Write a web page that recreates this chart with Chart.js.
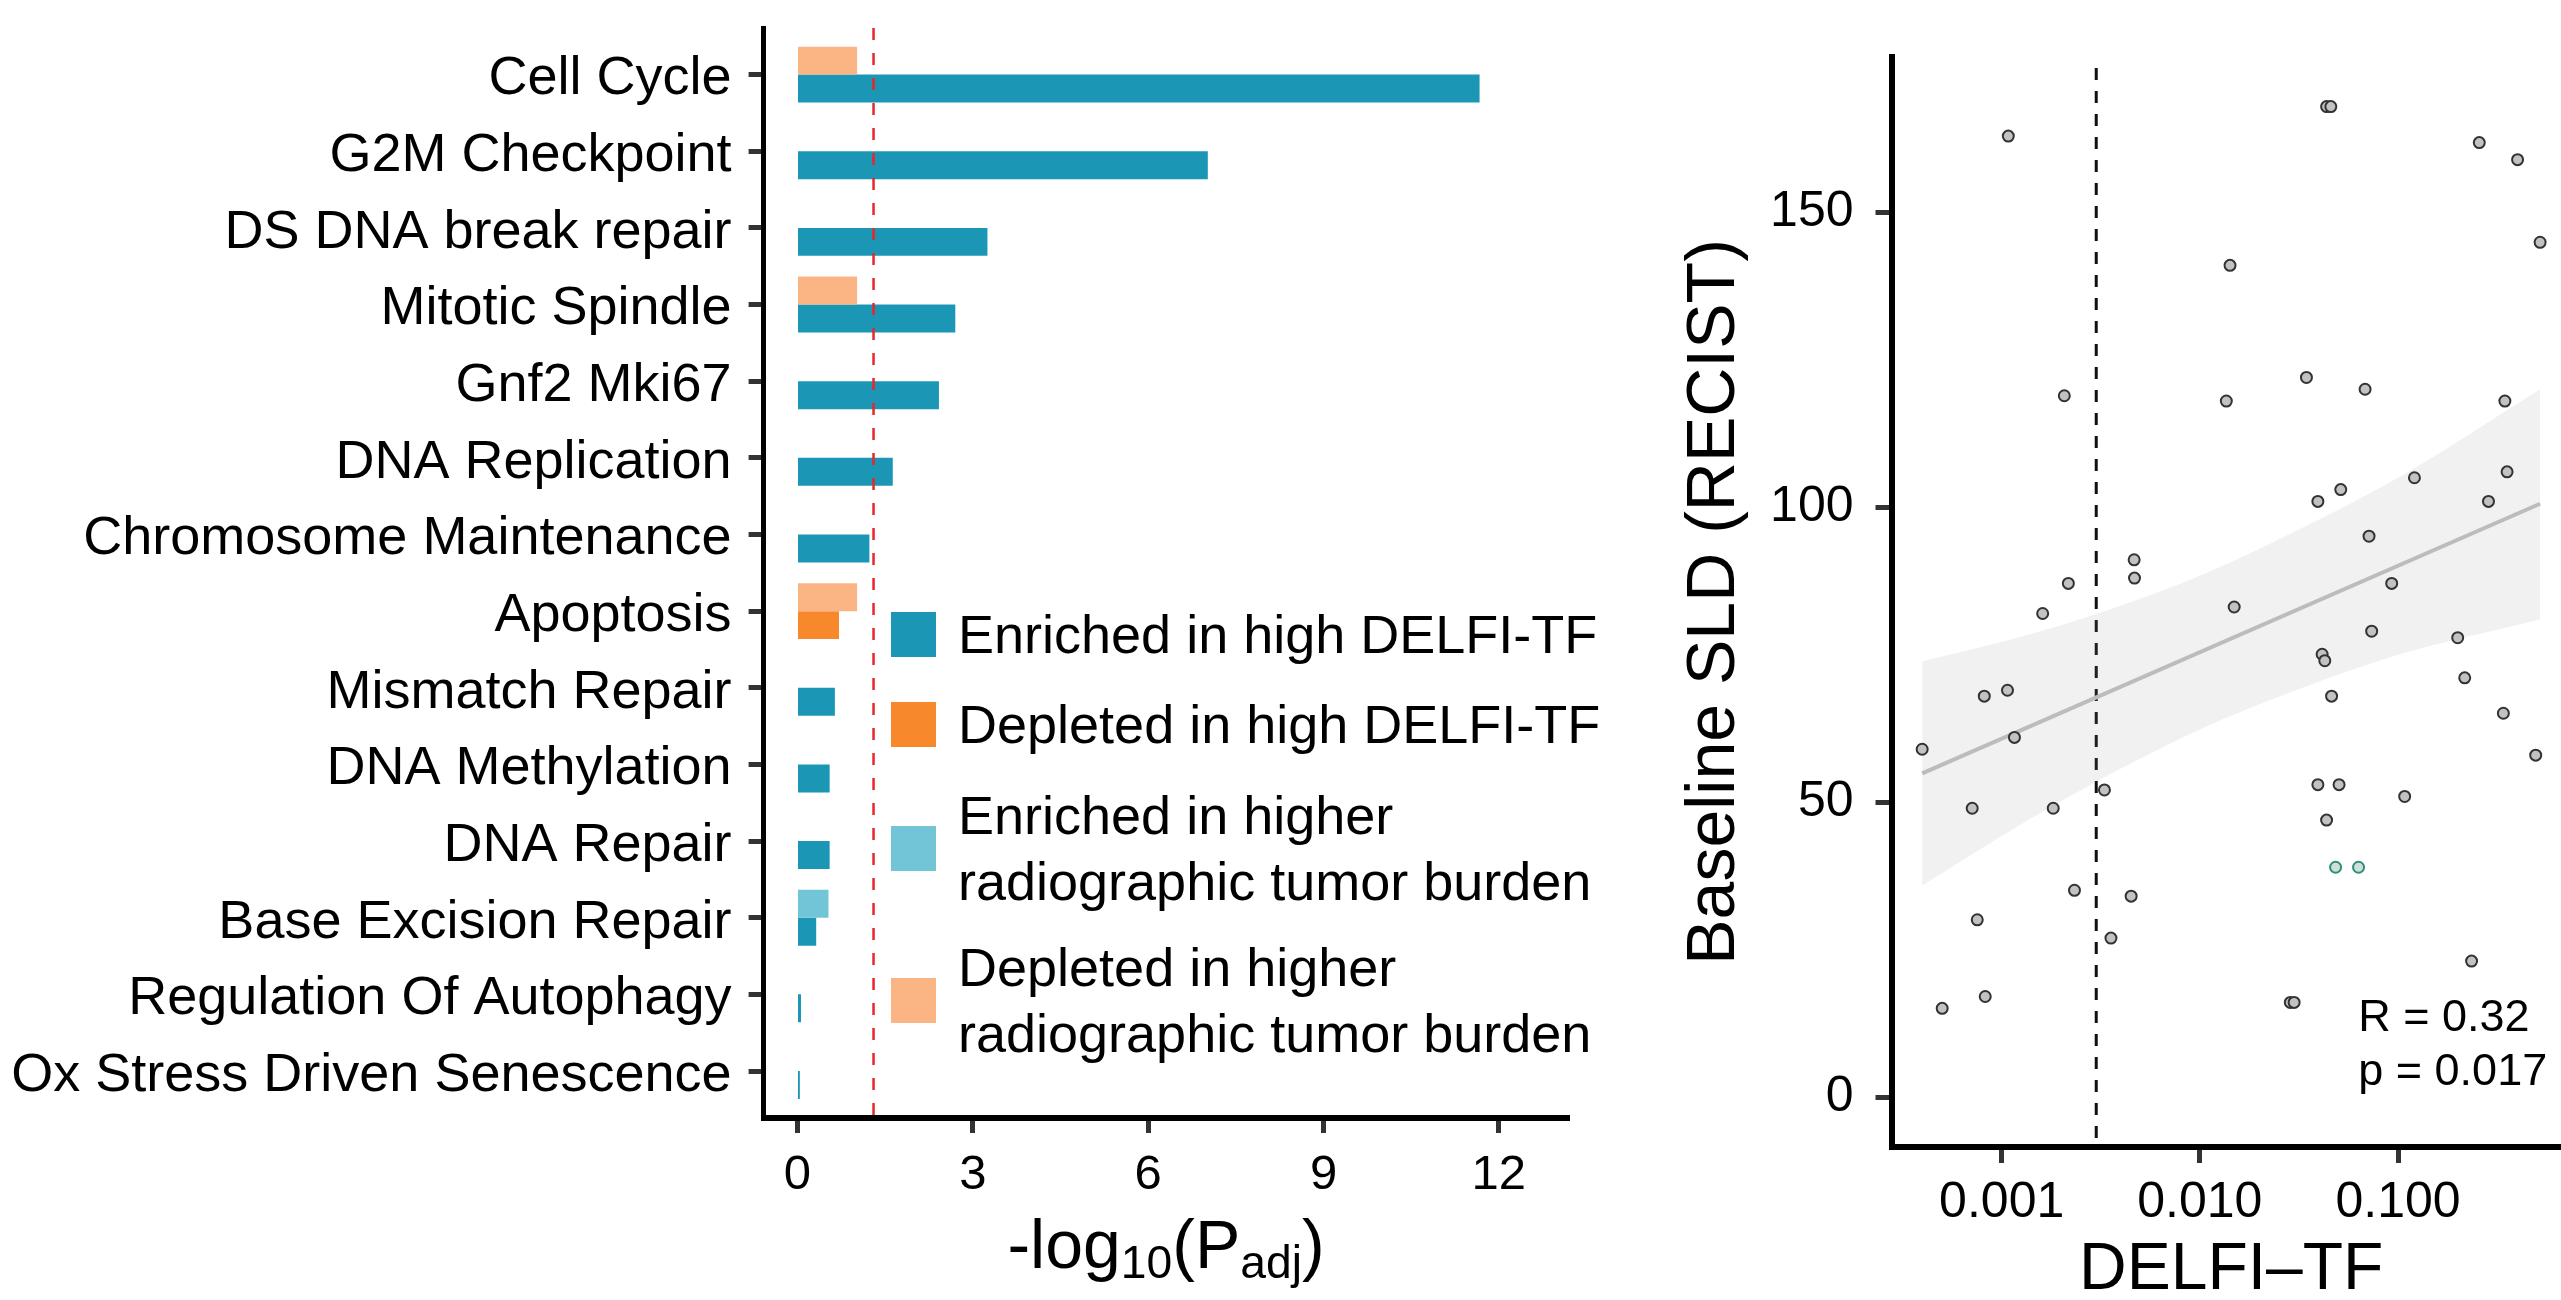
<!DOCTYPE html>
<html>
<head>
<meta charset="utf-8">
<title>Pathway enrichment and DELFI-TF vs baseline SLD</title>
<script src="https://cdn.jsdelivr.net/npm/chart.js@4.4.1/dist/chart.umd.min.js"></script>
<style>
  html, body { margin: 0; padding: 0; background: #fff; }
  body { width: 2561px; height: 1300px; overflow: hidden; position: relative;
         font-family: 'Liberation Sans', Arial, Helvetica, sans-serif; color: #000; }
  #left-chart { position: absolute; left: 0; top: 0; }
  #right-chart { position: absolute; left: 1620px; top: 0; }
  .legend-item { position: absolute; left: 891px; display: flex; align-items: center;
                 font-size: 54px; line-height: 66px; white-space: pre-line; }
  .legend-swatch { width: 45px; height: 45px; margin-right: 22px; flex: none; }
  #x-title-left { position: absolute; top: 1210px; left: 1166px; transform: translateX(-50%);
                  font-size: 68px; line-height: 68px; white-space: nowrap; }
  #x-title-left .sub { font-size: 0.68em; position: relative; top: 0.22em; }
</style>
</head>
<body>
<canvas id="left-chart" width="1600" height="1300"></canvas>
<canvas id="right-chart" width="1000" height="1300"></canvas>
<div id="legend"></div>
<div id="x-title-left">-log<span class="sub">10</span>(P<span class="sub">adj</span>)</div>
<script>
// ---- left panel: pathway enrichment, -log10(Padj) ----
const pathways = ['Cell Cycle', 'G2M Checkpoint', 'DS DNA break repair', 'Mitotic Spindle',
  'Gnf2 Mki67', 'DNA Replication', 'Chromosome Maintenance', 'Apoptosis', 'Mismatch Repair',
  'DNA Methylation', 'DNA Repair', 'Base Excision Repair', 'Regulation Of Autophagy',
  'Ox Stress Driven Senescence'];
const delfiEnriched = [11.67, 7.02, 3.25, 2.70, 2.42, 1.63, 1.23, null, 0.64, 0.55, 0.55, 0.32, 0.06, 0.04];
const delfiDepleted = [null, null, null, null, null, null, null, 0.71, null, null, null, null, null, null];
const radioEnriched = [null, null, null, null, null, null, null, null, null, null, null, 0.53, null, null];
const radioDepleted = [1.02, null, null, 1.02, null, null, null, 1.02, null, null, null, null, null, null];
const padjCutoff = 1.301;
const padjTicks = [0, 3, 6, 9, 12];

// ---- right panel: DELFI-TF vs baseline SLD ----
const delfiTf = [0.00108, 0.0436, 0.0458, 0.257, 0.401, 0.521, 0.0142, 0.00207, 0.0136, 0.0345,
  0.0682, 0.346, 0.121, 0.355, 0.0514, 0.0394, 0.286, 0.0714, 0.00466, 0.00468, 0.00217, 0.00161,
  0.0149, 0.0929, 0.0736, 0.200, 0.0414, 0.0427, 0.217, 0.0462, 0.340, 0.000817, 0.00107, 0.00116,
  0.000397, 0.495, 0.00330, 0.000710, 0.00182, 0.0394, 0.0504, 0.108, 0.0436, 0.00233, 0.00450,
  0.000753, 0.00356, 0.235, 0.000826, 0.000501, 0.0286, 0.0299];
const baselineSld = [162.9, 167.9, 167.9, 161.8, 158.9, 144.9, 141.0, 118.9, 118.0, 122.0,
  120.0, 118.0, 105.0, 106.0, 103.0, 101.0, 101.0, 95.1, 91.1, 88.0, 87.1, 82.0,
  83.1, 87.1, 79.0, 77.9, 75.1, 74.0, 71.1, 68.0, 65.1, 68.0, 69.0, 61.0,
  59.0, 58.0, 52.1, 49.0, 49.0, 53.0, 53.0, 51.0, 47.0, 35.1, 34.1,
  30.1, 27.0, 23.1, 17.1, 15.1, 16.1, 16.1];
const flaggedTf = [0.0484, 0.0632];
const flaggedSld = [39.0, 39.0];
const fitTf = [0.000397, 0.521];
const fitSld = [54.9, 100.6];
const bandTf = [0.000397, 0.0012, 0.0035, 0.0105, 0.031, 0.1, 0.521];
const bandLow = [35.9, 45.9, 54.7, 62.7, 69.1, 75.0, 81.0];
const bandHigh = [73.9, 77.9, 82.7, 88.7, 96.1, 105.0, 120.0];
const tfCutoff = 0.003;
const tfTicks = [0.001, 0.01, 0.1];
const sldTicks = [0, 50, 100, 150];
const corrLines = ['R = 0.32', 'p = 0.017'];

const TEAL = '#1b97b5';
const ORANGE = '#f7882b';
const LIGHT_BLUE = '#72c4d7';
const LIGHT_ORANGE = '#fbb584';

Chart.defaults.font.family = "'Liberation Sans', Arial, Helvetica, sans-serif";
Chart.defaults.color = '#000';

const toBarPoints = (values) => values
  .map((v, i) => ({ y: i, x: v }))
  .filter((p) => p.x !== null);

// vertical reference line drawn at a data value of the x scale
const refLinePlugin = {
  id: 'refLine',
  beforeDatasetsDraw(chart, args, opts) { if (opts.behind) drawRefLine(chart, opts); },
  afterDatasetsDraw(chart, args, opts) { if (!opts.behind) drawRefLine(chart, opts); }
};
function drawRefLine(chart, opts) {
  const { ctx, chartArea } = chart;
  const x = chart.scales.x.getPixelForValue(opts.value);
  ctx.save();
  ctx.strokeStyle = opts.color;
  ctx.lineWidth = opts.width;
  ctx.setLineDash(opts.dash);
  ctx.lineDashOffset = opts.dashOffset || 0;
  ctx.beginPath();
  ctx.moveTo(x, chartArea.top);
  ctx.lineTo(x, chartArea.bottom);
  ctx.stroke();
  ctx.restore();
}

// correlation text in data coordinates
const corrLabelPlugin = {
  id: 'corrLabel',
  afterDatasetsDraw(chart, args, opts) {
    const { ctx, scales } = chart;
    const x = scales.x.getPixelForValue(opts.x);
    ctx.save();
    ctx.font = `${opts.size}px ${Chart.defaults.font.family}`;
    ctx.fillStyle = '#000';
    ctx.textAlign = 'left';
    ctx.textBaseline = 'alphabetic';
    opts.lines.forEach((line, i) => {
      ctx.fillText(line, x, scales.y.getPixelForValue(opts.y[i]));
    });
    ctx.restore();
  }
};

const axisGrid = (w, len) => ({
  display: true, drawOnChartArea: false, drawTicks: true, offset: false,
  tickLength: len, tickWidth: w, tickColor: '#333'
});

const barDatasets = [
  { label: 'Enriched in higher\nradiographic tumor burden', stack: 'radio', data: toBarPoints(radioEnriched), backgroundColor: LIGHT_BLUE },
  { label: 'Depleted in higher\nradiographic tumor burden', stack: 'radio', data: toBarPoints(radioDepleted), backgroundColor: LIGHT_ORANGE },
  { label: 'Enriched in high DELFI-TF', stack: 'delfi', data: toBarPoints(delfiEnriched), backgroundColor: TEAL },
  { label: 'Depleted in high DELFI-TF', stack: 'delfi', data: toBarPoints(delfiDepleted), backgroundColor: ORANGE }
];

new Chart(document.getElementById('left-chart'), {
  type: 'bar',
  data: { datasets: barDatasets },
  options: {
    indexAxis: 'y',
    responsive: false,
    animation: false,
    devicePixelRatio: 1,
    layout: { padding: { left: 0, right: 31, top: 28, bottom: 0 } },
    datasets: { bar: { categoryPercentage: 0.73, barPercentage: 1, borderWidth: 0 } },
    plugins: {
      legend: { display: false },
      tooltip: { enabled: false },
      refLine: { value: padjCutoff, color: '#e8262b', width: 2.5, dash: [12, 13], behind: false }
    },
    scales: {
      x: {
        type: 'linear', min: -0.58, max: 13.2,
        afterBuildTicks: (s) => { s.ticks = padjTicks.map((v) => ({ value: v })); },
        afterFit: (s) => { s.height = 182; s.paddingLeft = 0; s.paddingRight = 0; },
        ticks: { font: { size: 49 }, color: '#000', padding: 13, maxRotation: 0 },
        grid: axisGrid(5, 15),
        border: { display: true, width: 6, color: '#000' }
      },
      y: {
        type: 'linear', reverse: true, min: -0.608, max: 13.613, offset: false,
        afterBuildTicks: (s) => { s.ticks = pathways.map((_, i) => ({ value: i })); },
        afterFit: (s) => { s.width = 763.6; s.paddingTop = 0; s.paddingBottom = 0; },
        ticks: { font: { size: 54 }, color: '#000', padding: 17, autoSkip: false, labelOffset: 5,
                 callback: (v) => pathways[v] },
        grid: axisGrid(5, 15),
        border: { display: true, width: 5, color: '#000' }
      }
    }
  },
  plugins: [refLinePlugin]
});

// HTML legend (two-line labels), in the order of the reference
const legendOrder = [2, 3, 0, 1];
const legendTops = [601, 691, 782, 934];
const legendEl = document.getElementById('legend');
legendOrder.forEach((di, k) => {
  const ds = barDatasets[di];
  const item = document.createElement('div');
  item.className = 'legend-item';
  item.style.top = legendTops[k] + 'px';
  const sw = document.createElement('span');
  sw.className = 'legend-swatch';
  sw.style.background = ds.backgroundColor;
  const txt = document.createElement('span');
  txt.textContent = ds.label;
  item.appendChild(sw);
  item.appendChild(txt);
  legendEl.appendChild(item);
});

const xy = (xs, ys) => xs.map((x, i) => ({ x, y: ys[i] }));

new Chart(document.getElementById('right-chart'), {
  type: 'scatter',
  data: {
    datasets: [
      { type: 'line', label: 'band high', data: xy(bandTf, bandHigh), fill: '+1', showLine: true,
        backgroundColor: 'rgba(140,140,140,0.12)', borderWidth: 0, pointRadius: 0,
        cubicInterpolationMode: 'monotone', order: 3 },
      { type: 'line', label: 'band low', data: xy(bandTf, bandLow), fill: false, showLine: true,
        borderWidth: 0, pointRadius: 0, cubicInterpolationMode: 'monotone', order: 4 },
      { type: 'line', label: 'fit', data: xy(fitTf, fitSld), showLine: true, fill: false,
        borderColor: '#bcbcbc', borderWidth: 4, pointRadius: 0, order: 2 },
      { label: 'samples', data: xy(delfiTf, baselineSld), pointRadius: 5.5, pointBorderWidth: 2,
        backgroundColor: '#c2c2c2', borderColor: '#333', order: 0 },
      { label: 'flagged', data: xy(flaggedTf, flaggedSld), pointRadius: 5.5, pointBorderWidth: 2,
        backgroundColor: '#cfe0da', borderColor: '#2f8f7a', order: 0 }
    ]
  },
  options: {
    responsive: false,
    animation: false,
    devicePixelRatio: 1,
    layout: { padding: { left: 0, right: 49, top: 57, bottom: 0 } },
    plugins: {
      legend: { display: false },
      tooltip: { enabled: false },
      refLine: { value: tfCutoff, color: '#111', width: 3, dash: [12, 11], dashOffset: 12, behind: true },
      corrLabel: { x: 0.063, y: [11.2, 2.1], lines: corrLines, size: 45 }
    },
    scales: {
      x: {
        type: 'logarithmic', min: 0.000278, max: 0.746,
        afterBuildTicks: (s) => { s.ticks = tfTicks.map((v) => ({ value: v })); },
        afterFit: (s) => { s.height = 153; s.paddingLeft = 0; s.paddingRight = 0; },
        ticks: { font: { size: 50 }, color: '#000', padding: 10, maxRotation: 0,
                 callback: (v) => Number(v).toFixed(3) },
        grid: axisGrid(5, 16),
        border: { display: true, width: 6, color: '#000' },
        title: { display: true, text: 'DELFI\u2013TF', color: '#000',
                 font: { size: 66, lineHeight: 0.9 }, padding: 0 }
      },
      y: {
        type: 'linear', min: -8.4, max: 176.3,
        afterBuildTicks: (s) => { s.ticks = sldTicks.map((v) => ({ value: v })); },
        afterFit: (s) => { s.width = 271.5; s.paddingTop = 0; s.paddingBottom = 0; },
        ticks: { font: { size: 50 }, color: '#000', padding: 22 },
        grid: axisGrid(5, 16),
        border: { display: true, width: 6, color: '#000' },
        title: { display: true, text: 'Baseline SLD (RECIST)', color: '#000',
                 font: { size: 68 }, padding: { top: 54, bottom: 0 } }
      }
    }
  },
  plugins: [refLinePlugin, corrLabelPlugin]
});
</script>
</body>
</html>
